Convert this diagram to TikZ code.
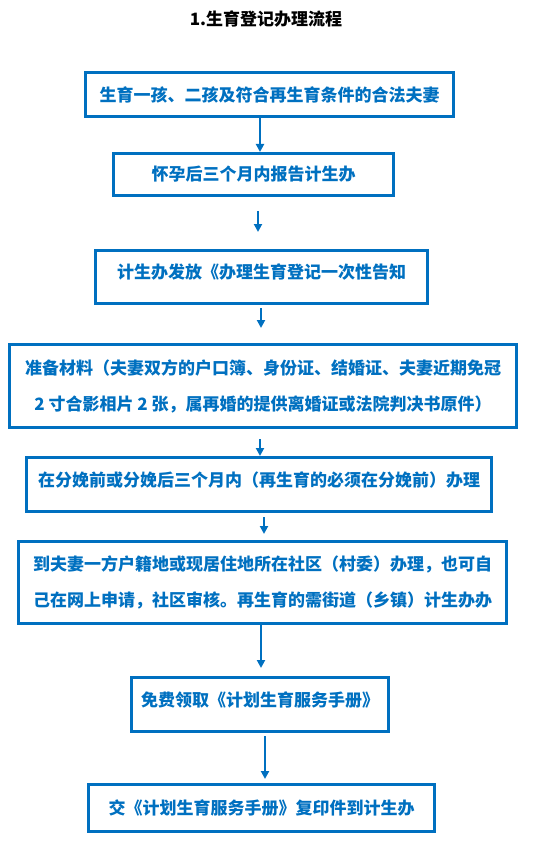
\documentclass[tikz,border=0pt]{standalone}
\usepackage{fontspec}
\newfontfamily\cjk{Noto Sans CJK SC}
\usepackage{tikz}
\usetikzlibrary{arrows.meta,positioning}
\definecolor{wordblue}{RGB}{0,112,192}

\begin{document}
\begin{tikzpicture}[
  x=1pt, y=-1pt,
  stepbox/.style={rectangle, draw=wordblue, line width=3pt, text=wordblue, align=center, inner sep=0pt, font=\cjk\bfseries\fontsize{17}{36}\selectfont},
  raised/.style={text depth=11pt},
  flow/.style={draw=wordblue, line width=2.6pt, -{Triangle[length=8pt,width=8pt]}}
]
  \useasboundingbox (0,0) rectangle (544,842);
  \node[font=\cjk\bfseries\fontsize{17}{20}\selectfont] (title) at (266,19) {1.生育登记办理流程};
  \node[stepbox, minimum width=368pt, minimum height=44pt] (b1) at (269.5,94.5) {生育一孩、二孩及符合再生育条件的合法夫妻};
  \node[stepbox, minimum width=280pt, minimum height=42pt] (b2) at (253.5,174.5) {怀孕后三个月内报告计生办};
  \node[stepbox, raised, minimum width=332pt, minimum height=53pt] (b3) at (261.5,277) {计生办发放《办理生育登记一次性告知};
  \node[stepbox, minimum width=507pt, minimum height=83pt] (b4) at (263,386) {准备材料（夫妻双方的户口簿、身份证、结婚证、夫妻近期免冠\\2 寸合影相片 2 张，属再婚的提供离婚证或法院判决书原件）};
  \node[stepbox, raised, minimum width=465pt, minimum height=54pt] (b5) at (259,484.5) {在分娩前或分娩后三个月内（再生育的必须在分娩前）办理};
  \node[stepbox, minimum width=488pt, minimum height=82pt] (b6) at (262.5,582.5) {到夫妻一方户籍地或现居住地所在社区（村委）办理，也可自\\己在网上申请，社区审核。再生育的需街道（乡镇）计生办办};
  \node[stepbox, raised, minimum width=257pt, minimum height=54pt] (b7) at (260,704.5) {免费领取《计划生育服务手册》};
  \node[stepbox, minimum width=346pt, minimum height=47pt] (b8) at (261.5,808) {交《计划生育服务手册》复印件到计生办};
  % arrows between the steps
  \draw[flow] ([xshift=-9.5pt]b1.south) -- ([xshift=-9.5pt]b1.south |- b2.north);
  \draw[flow, shorten <=14pt, shorten >=17pt] ([xshift=4.5pt]b2.south) -- ([xshift=4.5pt]b2.south |- b3.north);
  \draw[flow, shorten <=3pt, shorten >=15pt] ([xshift=-0.5pt]b3.south) -- ([xshift=-0.5pt]b3.south |- b4.north);
  \draw[flow, shorten <=10pt] ([xshift=-3pt]b4.south) -- ([xshift=-3pt]b4.south |- b5.north);
  \draw[flow, shorten <=4pt, shorten >=6pt] ([xshift=5pt]b5.south) -- ([xshift=5pt]b5.south |- b6.north);
  \draw[flow, shorten >=8pt] ([xshift=-1.5pt]b6.south) -- ([xshift=-1.5pt]b6.south |- b7.north);
  \draw[flow, shorten <=3pt, shorten >=4pt] ([xshift=5pt]b7.south) -- ([xshift=5pt]b7.south |- b8.north);
\end{tikzpicture}
\end{document}
